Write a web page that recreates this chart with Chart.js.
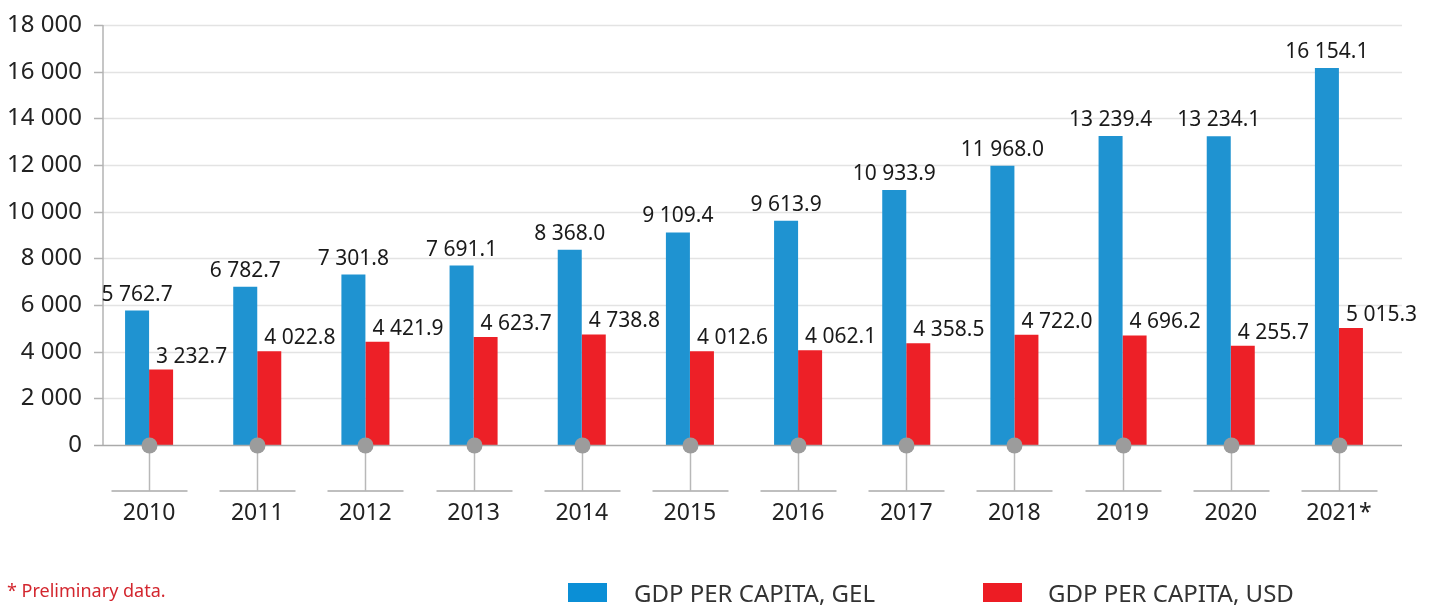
<!DOCTYPE html>
<html>
<head>
<meta charset="utf-8">
<script src="https://cdn.jsdelivr.net/npm/chart.js@4.4.1/dist/chart.umd.min.js"></script>
<style>
  html, body { margin: 0; padding: 0; background: #fff; }
  #wrap { position: relative; width: 1434px; height: 605px; overflow: hidden; font-family: "Noto Sans", sans-serif; }
  canvas { position: absolute; left: 0; top: 0; }
  .lg-box { position: absolute; width: 39px; height: 19px; top: 583px; }
  .lg-text { position: absolute; top: 576px; font-size: 24px; line-height: 33px; color: #333; white-space: nowrap; }
  #foot { position: absolute; left: 7px; top: 577px; font-size: 18px; line-height: 27px; color: #d3262e; white-space: nowrap; }
</style>
</head>
<body>
<div id="wrap">
  <canvas id="c" width="1434" height="605"></canvas>
  <div id="legend"></div>
  <div id="foot"></div>
</div>
<script>
const years = ['2010','2011','2012','2013','2014','2015','2016','2017','2018','2019','2020','2021*'];
const gdpPerCapitaGel = [5762.7, 6782.7, 7301.8, 7691.1, 8368.0, 9109.4, 9613.9, 10933.9, 11968.0, 13239.4, 13234.1, 16154.1];
const gdpPerCapitaUsd = [3232.7, 4022.8, 4421.9, 4623.7, 4738.8, 4012.6, 4062.1, 4358.5, 4722.0, 4696.2, 4255.7, 5015.3];
const seriesLabels = ['GDP PER CAPITA, GEL', 'GDP PER CAPITA, USD'];
const yTickValues = [0, 2000, 4000, 6000, 8000, 10000, 12000, 14000, 16000, 18000];
const footnoteText = '* Preliminary data.';

const barColors = ['#1f93d1', '#ed2027'];
const legendColors = ['#0b8fd6', '#ed1c24'];
const FONT = '"Noto Sans", sans-serif';

function groupDigits(s) {
  return s.replace(/\B(?=(\d{3})+(?!\d))/g, ' ');
}
function fmtInt(v) { return groupDigits(String(Math.round(v))); }
function fmtDec(v) {
  const parts = v.toFixed(1).split('.');
  return groupDigits(parts[0]) + '.' + parts[1];
}

const decorPlugin = {
  id: 'decor',
  beforeDatasetsDraw(chart) {
    const ctx = chart.ctx;
    const y = chart.scales.y;
    const left = 94, axisX = 103, right = 1402;
    ctx.save();
    yTickValues.forEach(v => {
      if (v === 0) return;
      const py = Math.round(y.getPixelForValue(v)) + 0.5;
      ctx.strokeStyle = '#e3e3e3';
      ctx.lineWidth = 1.5;
      ctx.beginPath(); ctx.moveTo(axisX, py); ctx.lineTo(right, py); ctx.stroke();
      ctx.strokeStyle = '#b3b3b3';
      ctx.beginPath(); ctx.moveTo(left, py); ctx.lineTo(axisX, py); ctx.stroke();
    });
    ctx.strokeStyle = '#b3b3b3';
    ctx.lineWidth = 1.5;
    ctx.beginPath();
    ctx.moveTo(axisX, y.getPixelForValue(yTickValues[yTickValues.length - 1]));
    ctx.lineTo(axisX, y.getPixelForValue(0));
    ctx.stroke();
    ctx.restore();
  },
  afterDatasetsDraw(chart) {
    const ctx = chart.ctx;
    const x = chart.scales.x, y = chart.scales.y;
    const y0 = Math.round(y.getPixelForValue(0)) + 0.5;
    ctx.save();
    ctx.strokeStyle = '#aaaaaa';
    ctx.lineWidth = 1.5;
    ctx.beginPath(); ctx.moveTo(94, y0); ctx.lineTo(1402, y0); ctx.stroke();
    years.forEach((yr, i) => {
      const cx = Math.round(x.getPixelForValue(i)) + 0.5;
      ctx.strokeStyle = '#b8b8b8';
      ctx.lineWidth = 1.5;
      ctx.beginPath(); ctx.moveTo(cx, y0); ctx.lineTo(cx, y0 + 45); ctx.stroke();
      ctx.strokeStyle = '#aaaaaa';
      ctx.beginPath(); ctx.moveTo(cx - 38, y0 + 45.5); ctx.lineTo(cx + 38, y0 + 45.5); ctx.stroke();
      ctx.fillStyle = '#9c9c9c';
      ctx.beginPath(); ctx.arc(cx, y0, 8, 0, Math.PI * 2); ctx.fill();
    });
    // value labels
    ctx.font = '21px ' + FONT;
    ctx.fillStyle = '#1a1a1a';
    ctx.textBaseline = 'middle';
    chart.getDatasetMeta(0).data.forEach((bar, i) => {
      ctx.textAlign = 'center';
      ctx.fillText(fmtDec(gdpPerCapitaGel[i]), bar.x, bar.y - 16);
    });
    chart.getDatasetMeta(1).data.forEach((bar, i) => {
      ctx.textAlign = 'left';
      ctx.fillText(fmtDec(gdpPerCapitaUsd[i]), bar.x - 5, bar.y - 13);
    });
    ctx.restore();
  }
};

new Chart(document.getElementById('c'), {
  type: 'bar',
  data: {
    labels: years,
    datasets: [
      { label: seriesLabels[0], data: gdpPerCapitaGel, backgroundColor: barColors[0], borderWidth: 0 },
      { label: seriesLabels[1], data: gdpPerCapitaUsd, backgroundColor: barColors[1], borderWidth: 0 }
    ]
  },
  options: {
    responsive: false,
    animation: false,
    devicePixelRatio: 1,
    layout: { padding: { left: 0, right: 41, top: 25, bottom: 60 } },
    datasets: { bar: { categoryPercentage: 0.444, barPercentage: 1.0 } },
    plugins: { legend: { display: false }, tooltip: { enabled: false } },
    scales: {
      x: {
        afterFit(scale) { scale.height = 100; },
        grid: { display: false },
        border: { display: false },
        ticks: { font: { family: FONT, size: 23 }, color: '#222', padding: 47, maxRotation: 0, autoSkip: false }
      },
      y: {
        min: yTickValues[0],
        max: yTickValues[yTickValues.length - 1],
        afterFit(scale) { scale.width = 95; },
        afterBuildTicks(scale) { scale.ticks = yTickValues.map(v => ({ value: v })); },
        grid: { display: false },
        border: { display: false },
        ticks: { font: { family: FONT, size: 24 }, color: '#222', padding: 5, callback: v => fmtInt(v) }
      }
    }
  },
  plugins: [decorPlugin]
});

// HTML legend and footnote
const legendEl = document.getElementById('legend');
const legendPos = [{ box: 568, text: 634 }, { box: 983, text: 1048 }];
seriesLabels.forEach((lab, i) => {
  const b = document.createElement('div');
  b.className = 'lg-box';
  b.style.left = legendPos[i].box + 'px';
  b.style.background = legendColors[i];
  legendEl.appendChild(b);
  const t = document.createElement('div');
  t.className = 'lg-text';
  t.style.left = legendPos[i].text + 'px';
  t.textContent = lab;
  legendEl.appendChild(t);
});
document.getElementById('foot').textContent = footnoteText;
</script>
</body>
</html>
